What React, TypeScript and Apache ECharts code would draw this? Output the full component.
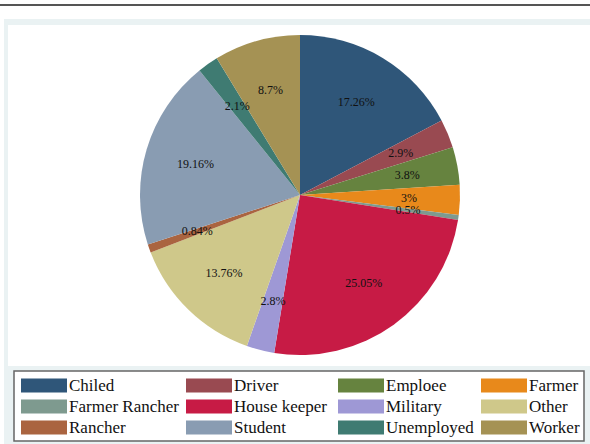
import React, { useEffect, useRef } from "react";
import * as echarts from "echarts";

const categories = [
  "Chiled",
  "Driver",
  "Emploee",
  "Farmer",
  "Farmer Rancher",
  "House keeper",
  "Military",
  "Other",
  "Rancher",
  "Student",
  "Unemployed",
  "Worker",
];
const values = [17.26, 2.9, 3.8, 3, 0.5, 25.05, 2.8, 13.76, 0.84, 19.16, 2.1, 8.7];
const labels = ["17.26%", "2.9%", "3.8%", "3%", "0.5%", "25.05%", "2.8%", "13.76%", "0.84%", "19.16%", "2.1%", "8.7%"];
const palette = [
  "#2f5679",
  "#994a51",
  "#66833f",
  "#e8891b",
  "#7e9a8f",
  "#c71b45",
  "#9e98d5",
  "#cfc88a",
  "#aa6440",
  "#899cb2",
  "#3f7b72",
  "#a59254",
];
const legendColumns = [
  ["Chiled", "Farmer Rancher", "Rancher"],
  ["Driver", "House keeper", "Student"],
  ["Emploee", "Military", "Unemployed"],
  ["Farmer", "Other", "Worker"],
];
const legendLefts = [21, 186, 338, 481];

export default function App() {
  const ref = useRef<HTMLDivElement>(null);
  useEffect(() => {
    document.body.style.margin = "0";
    if (!ref.current) return;
    const chart = echarts.init(ref.current, undefined, { renderer: "svg" });
    const font = "Liberation Serif";
    const mainData = categories.map((name, i) => ({
      name,
      value: values[i],
      itemStyle: { color: palette[i] },
    }));
    const labelData = categories.map((name, i) => ({
      name,
      value: values[i],
      label: { formatter: labels[i] },
    }));
    chart.setOption({
      animation: false,
      color: palette,
      graphic: [
        { type: "rect", z: -10, shape: { x: 0, y: 4, width: 590, height: 2 }, style: { fill: "#555555" } },
        { type: "rect", z: -10, shape: { x: 4, y: 19, width: 586, height: 425 }, style: { fill: "#eaf2f3" } },
        { type: "rect", z: -9, shape: { x: 8, y: 25, width: 582, height: 341 }, style: { fill: "#ffffff" } },
        {
          type: "rect",
          z: -9,
          shape: { x: 14, y: 371, width: 570, height: 70 },
          style: { fill: "#ffffff", stroke: "#666666", lineWidth: 1.5 },
        },
      ],
      legend: legendColumns.map((col, c) => ({
        orient: "vertical",
        left: legendLefts[c],
        top: 377,
        padding: 0,
        itemWidth: 46,
        itemHeight: 14,
        itemGap: 4,
        icon: "rect",
        selectedMode: false,
        data: col.map((name) => ({
          name,
          itemStyle: { color: palette[categories.indexOf(name)] },
        })),
        textStyle: {
          fontFamily: font,
          fontSize: 17,
          color: "#111111",
          lineHeight: 17,
          padding: [0, 0, 0, -3],
        },
      })),
      series: [
        {
          type: "pie",
          center: [300, 195],
          radius: [0, 160],
          startAngle: 90,
          clockwise: true,
          silent: true,
          label: { show: false },
          labelLine: { show: false },
          itemStyle: { borderWidth: 0 },
          emphasis: { disabled: true },
          data: mainData,
        },
        {
          type: "pie",
          center: [300, 195],
          radius: [52, 160],
          startAngle: 90,
          clockwise: true,
          silent: true,
          z: 3,
          itemStyle: { color: "rgba(0,0,0,0)", borderWidth: 0 },
          label: {
            show: true,
            position: "inside",
            fontFamily: font,
            fontSize: 12,
            color: "#111111",
          },
          labelLine: { show: false },
          emphasis: { disabled: true },
          data: labelData,
        },
      ],
    });
    return () => chart.dispose();
  }, []);
  return <div ref={ref} style={{ width: 590, height: 444 }} />;
}
